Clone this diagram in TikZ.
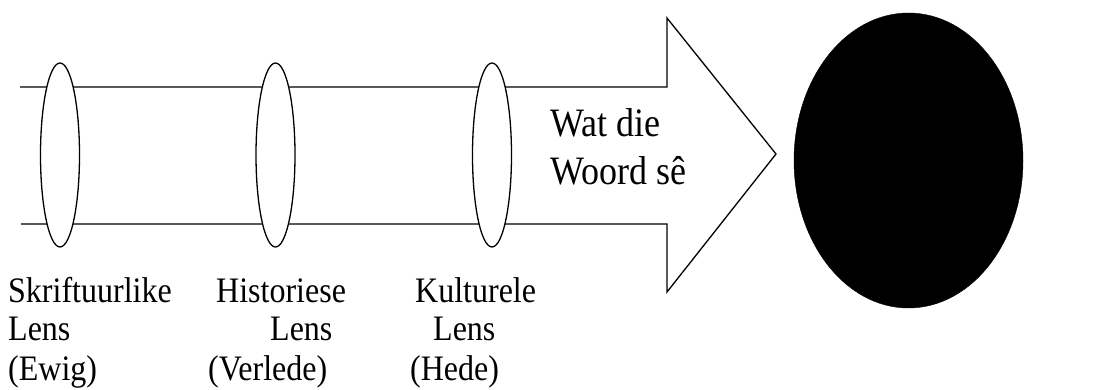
\documentclass[tikz,border=0pt]{standalone}
\usepackage{fontspec}
\setmainfont{Liberation Serif}
\usetikzlibrary{shapes.geometric}
\newcommand{\tallt}[1]{\scalebox{1}[1.12]{#1}}
\begin{document}
\begin{tikzpicture}[x=1pt,y=-1pt,
  lens/.style={draw=black,line width=1.3pt,fill=white,ellipse,minimum width=39pt,minimum height=184pt,inner sep=0pt},
  lbl/.style={anchor=base west,inner sep=0pt,font=\fontsize{32}{39}\selectfont},
  big/.style={anchor=base west,inner sep=0pt,font=\fontsize{36}{48}\selectfont},
  outline/.style={draw=black,line width=1.3pt}]
\useasboundingbox (0,0) rectangle (1109,390);
% arrow body
\coordinate (s1) at (20,87);
\coordinate (s2) at (667,87);
\coordinate (h1) at (667,18);
\coordinate (tip) at (776,154);
\coordinate (h2) at (667,292);
\coordinate (s3) at (667,224);
\coordinate (s4) at (21,224);
\draw[outline,line join=miter] (s1) -- (s2) -- (h1) -- (tip) -- (h2) -- (s3) -- (s4);
% lenses
\node[lens] (L1) at (60,155) {};
\node[lens] (L2) at (275.5,155) {};
\node[lens] (L3) at (492,155) {};
% dark circle
\node[ellipse,fill=black,draw=black,minimum width=229pt,minimum height=295pt,inner sep=0pt] (C) at (908.5,160.5) {};
% arrow text
\node[big] (w1) at (550,137) {\tallt{Wat die}};
\node[big] (w2) at (550,185) {\tallt{Woord sê}};
% labels
\node[lbl] (a1) at (8,302) {\tallt{Skriftuurlike}};
\node[lbl] (a2) at (8,341) {\tallt{Lens}};
\node[lbl] (a3) at (8,380) {\tallt{(Ewig)}};
\node[lbl] (b1) at (216,302) {\tallt{Historiese}};
\node[lbl] (b2) at (270,341) {\tallt{Lens}};
\node[lbl] (b3) at (208,380) {\tallt{(Verlede)}};
\node[lbl] (c1) at (415,302) {\tallt{Kulturele}};
\node[lbl] (c2) at (433,341) {\tallt{Lens}};
\node[lbl] (c3) at (410,380) {\tallt{(Hede)}};
\end{tikzpicture}
\end{document}
